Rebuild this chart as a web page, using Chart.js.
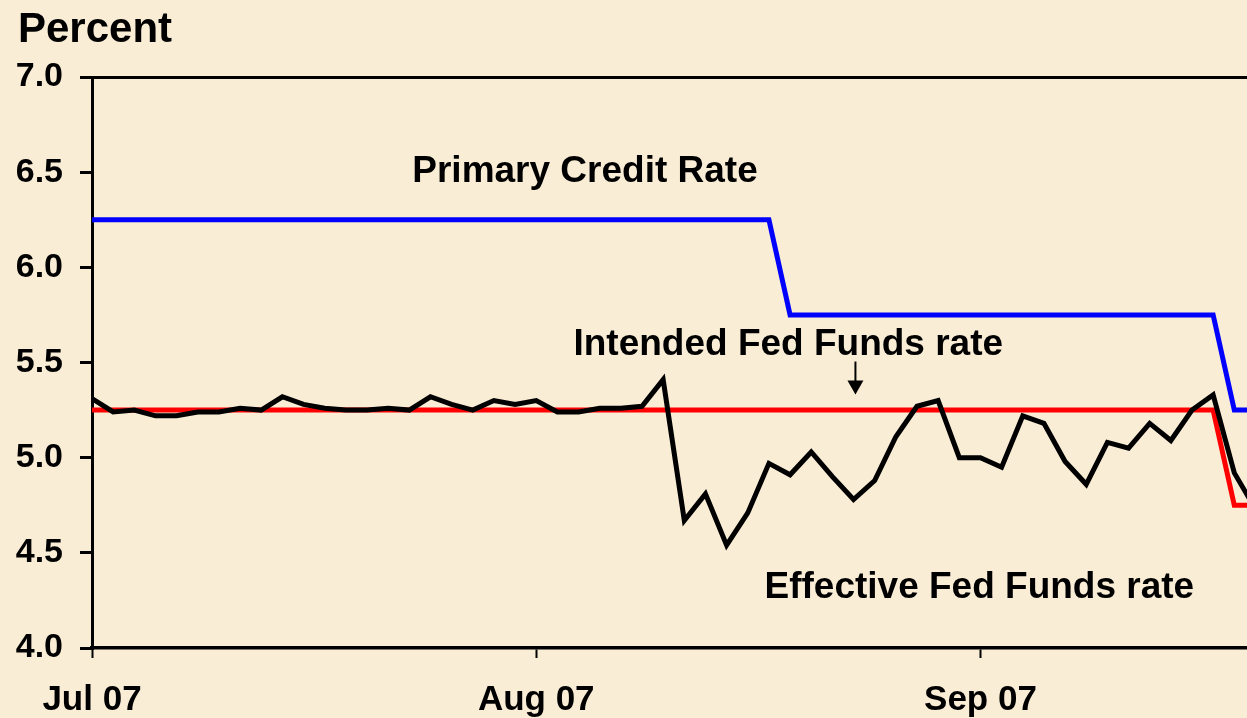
<!DOCTYPE html>
<html><head><meta charset="utf-8">
<script src="https://cdn.jsdelivr.net/npm/chart.js@4.4.1/dist/chart.umd.min.js"></script>
<style>
html,body{margin:0;padding:0;background:#FAEDD6;overflow:hidden}
#wrap{width:1247px;height:718px}
canvas{display:block}
</style></head><body>
<div id="wrap"><canvas id="c" width="1247" height="718"></canvas></div>
<script>
// trading-day index (x categories)
const days = [0,1,2,3,4,5,6,7,8,9,10,11,12,13,14,15,16,17,18,19,20,21,22,23,24,25,26,27,
  28,29,30,31,32,33,34,35,36,37,38,39,40,41,42,43,44,45,46,47,48,49,50,51,52,53,54,55];

const effectiveRate = [5.31,5.24,5.25,5.22,5.22,5.24,5.24,5.26,5.25,5.32,5.28,5.26,5.25,5.25,
  5.26,5.25,5.32,5.28,5.25,5.30,5.28,5.30,5.24,5.24,5.26,5.26,5.27,5.41,
  4.67,4.81,4.54,4.71,4.97,4.91,5.03,4.90,4.78,4.88,5.11,5.27,5.30,5.00,5.00,4.95,
  5.22,5.18,4.98,4.86,5.08,5.05,5.18,5.09,5.25,5.33,4.92,4.73];

const intendedRate = [5.25,5.25,5.25,5.25,5.25,5.25,5.25,5.25,5.25,5.25,5.25,5.25,5.25,5.25,
  5.25,5.25,5.25,5.25,5.25,5.25,5.25,5.25,5.25,5.25,5.25,5.25,5.25,5.25,
  5.25,5.25,5.25,5.25,5.25,5.25,5.25,5.25,5.25,5.25,5.25,5.25,5.25,5.25,5.25,5.25,
  5.25,5.25,5.25,5.25,5.25,5.25,5.25,5.25,5.25,5.25,4.75,4.75];

const primaryCreditRate = [6.25,6.25,6.25,6.25,6.25,6.25,6.25,6.25,6.25,6.25,6.25,6.25,6.25,6.25,
  6.25,6.25,6.25,6.25,6.25,6.25,6.25,6.25,6.25,6.25,6.25,6.25,6.25,6.25,
  6.25,6.25,6.25,6.25,6.25,5.75,5.75,5.75,5.75,5.75,5.75,5.75,5.75,5.75,5.75,5.75,
  5.75,5.75,5.75,5.75,5.75,5.75,5.75,5.75,5.75,5.75,5.25,5.25];

const tickDays = [0,21,42];
const tickLabels = ['Jul 07','Aug 07','Sep 07'];

const annotations = [
  {text:'Primary Credit Rate', day:15.14, value:6.446},
  {text:'Intended Fed Funds rate', day:22.76, value:5.537},
  {text:'Effective Fed Funds rate', day:31.79, value:4.264}
];
const arrow = {day:36.09, from:5.505, to:5.332};

const FONT = '"Liberation Sans", Arial, Helvetica, sans-serif';
const pts = arr => days.map((d,i)=>({x:d, y:arr[i]}));

const overlay = {
  id:'overlay',
  afterDatasetsDraw(chart){
    const {ctx, scales:{x, y}} = chart;
    ctx.save();
    ctx.fillStyle = '#000';
    ctx.font = `bold 37px ${FONT}`;
    ctx.textAlign = 'left';
    ctx.textBaseline = 'alphabetic';
    annotations.forEach(a => ctx.fillText(a.text, x.getPixelForValue(a.day), y.getPixelForValue(a.value)));
    const ax = x.getPixelForValue(arrow.day);
    const y1 = y.getPixelForValue(arrow.from), y2 = y.getPixelForValue(arrow.to);
    ctx.strokeStyle = '#000'; ctx.lineWidth = 2;
    ctx.beginPath(); ctx.moveTo(ax, y1); ctx.lineTo(ax, y2 - 10); ctx.stroke();
    ctx.beginPath(); ctx.moveTo(ax - 8, y2 - 14); ctx.lineTo(ax + 8, y2 - 14); ctx.lineTo(ax, y2); ctx.closePath(); ctx.fill();
    ctx.restore();
  },
  afterDraw(chart){
    const ctx = chart.ctx;
    ctx.save();
    ctx.font = `bold 42px ${FONT}`;
    ctx.fillStyle = '#000';
    ctx.textAlign = 'left';
    ctx.textBaseline = 'alphabetic';
    ctx.fillText('Percent', 18, 42);
    ctx.restore();
  }
};

new Chart(document.getElementById('c'), {
  type:'line',
  data:{
    datasets:[
      {label:'Effective Fed Funds rate', data:pts(effectiveRate), borderColor:'#000000', borderWidth:5, pointRadius:0, tension:0, order:0},
      {label:'Intended Fed Funds rate', data:pts(intendedRate), borderColor:'#FF0000', borderWidth:5, pointRadius:0, tension:0, order:1},
      {label:'Primary Credit Rate', data:pts(primaryCreditRate), borderColor:'#0000FF', borderWidth:5, pointRadius:0, tension:0, order:2}
    ]
  },
  options:{
    responsive:false,
    devicePixelRatio:1,
    animation:false,
    layout:{padding:{top:77, left:0, right:0, bottom:0}},
    plugins:{legend:{display:false}, tooltip:{enabled:false}, title:{display:false}},
    scales:{
      x:{
        type:'linear', min:0, max:54.6,
        afterBuildTicks: s => { s.ticks = tickDays.map(v => ({value:v})); },
        afterFit: s => { s.height = 70; },
        ticks:{
          callback: v => { const i = tickDays.indexOf(v); return i >= 0 ? tickLabels[i] : ''; },
          font:{family:FONT, size:35, weight:'bold'}, color:'#000', padding:21, maxRotation:0, autoSkip:false
        },
        grid:{drawOnChartArea:false, tickLength:10, tickColor:'#000', tickWidth:2, color:'#000'},
        border:{display:true, color:'#000', width:3.5}
      },
      y:{
        min:4, max:7,
        afterFit: s => { s.width = 92; },
        ticks:{stepSize:0.5, callback: v => Number(v).toFixed(1), font:{family:FONT, size:34, weight:'bold'}, color:'#000', padding:17},
        grid:{
          color: c => (c.tick && c.tick.value === 7) ? '#000' : 'rgba(0,0,0,0)',
          lineWidth:3, tickLength:12, tickColor:'#000', tickWidth:3
        },
        border:{display:true, color:'#000', width:3}
      }
    }
  },
  plugins:[overlay]
});
</script>
</body></html>
